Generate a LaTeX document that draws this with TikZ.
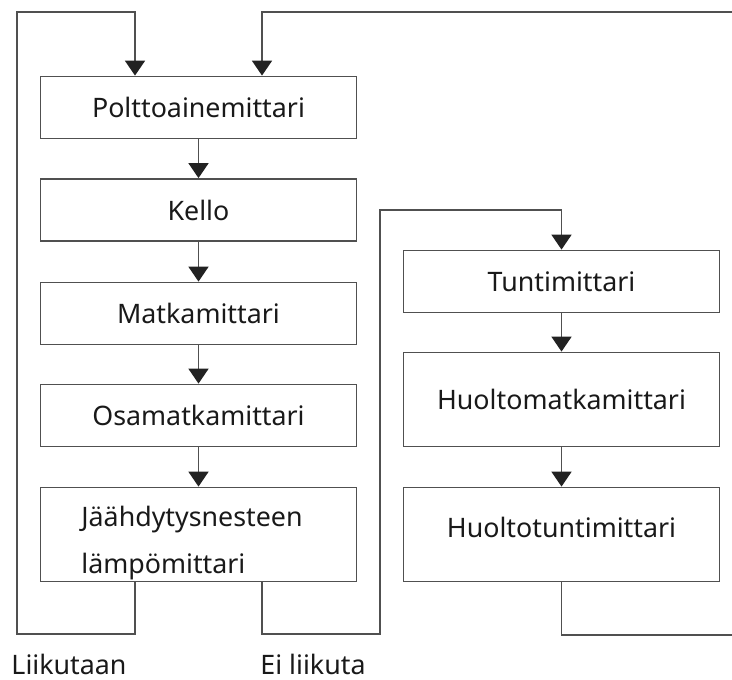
\documentclass[tikz,border=0pt]{standalone}
\usepackage{fontspec}
\setmainfont{Noto Sans}
\usepackage{tikz}
\usetikzlibrary{arrows.meta,calc}
\definecolor{viivaharmaa}{RGB}{80,80,80}
\definecolor{karki}{RGB}{34,34,34}

\begin{document}
\begin{tikzpicture}
[x=0.5pt, y=-0.5pt, line width=0.9pt,
laatikko/.style={rectangle, draw=viivaharmaa, minimum width=158pt,
  minimum height=31pt, inner sep=0pt, text=black!90,
  font=\fontsize{13.4}{22.5}\selectfont},
korkea/.style={laatikko, minimum height=47pt},
nuoli/.style={draw=viivaharmaa, -{Triangle[width=10pt,length=7.5pt,fill=karki,color=karki]}},
viiva/.style={draw=viivaharmaa},
selite/.style={text=black!90, font=\fontsize{13.4}{23.5}\selectfont}]
\useasboundingbox (0,0) rectangle (732,679);

% vasen sarake
\node (poltto) at (198.5,107.5)[laatikko] {Polttoainemittari};
\node (kello) at (198.5,210)[laatikko] {Kello};
\node (matka) at (198.5,313.5)[laatikko] {Matkamittari};
\node (osa) at (198.5,415.5)[laatikko] {Osamatkamittari};
\node (jaah) at (198.5,534.5)[korkea] {};
\node (jaahtxt) at (192,543)[selite, align=left] {Jäähdytysnesteen\\lämpömittari};

% oikea sarake
\node (tunti) at (561.5,281.5)[laatikko] {Tuntimittari};
\node (hmatka) at (561.5,399.5)[korkea] {Huoltomatkamittari};
\node (htunti) at (561.5,534.5)[korkea, text depth=7pt] {Huoltotuntimittari};

\node (liiktxt) at (69,664)[selite] {Liikutaan};
\node (eitxt) at (313,664)[selite] {Ei liikuta};

\coordinate (liik) at (135,634);
\coordinate (ylavasen) at (17,12);
\coordinate (eiliik) at (262,634);
\coordinate (keski) at (380,210);
\coordinate (ylaoikea) at (732,12);
\coordinate (alaoikea) at (732,635);

\draw[nuoli] (poltto) -- (kello);
\draw[nuoli] (kello) -- (matka);
\draw[nuoli] (matka) -- (osa);
\draw[nuoli] (osa) -- (jaah);

\draw[nuoli] (tunti) -- (hmatka);
\draw[nuoli] (hmatka) -- (htunti);

\draw[nuoli] (jaah.south -| liik) -- (liik) -| (ylavasen) -| (poltto.north -| liik);
\draw[nuoli] (jaah.south -| eiliik) -- (eiliik) -| (keski) -| (tunti.north);
\draw[nuoli] (ylaoikea) -| (poltto.north -| eiliik);
\draw[viiva] (htunti.south) |- (alaoikea);
\end{tikzpicture}
\end{document}
